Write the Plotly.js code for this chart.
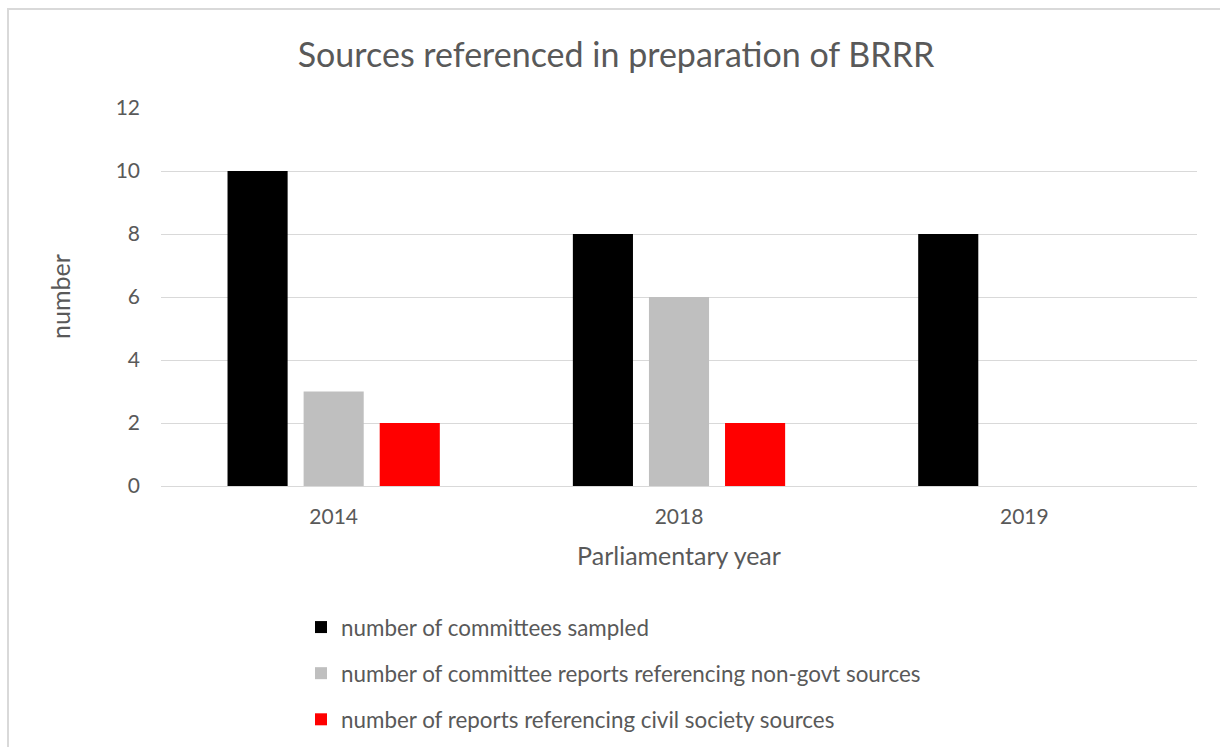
<!DOCTYPE html>
<html>
<head>
<meta charset="utf-8">
<script src="https://cdn.plot.ly/plotly-3.0.1.min.js"></script>
<style>
  html, body { margin: 0; padding: 0; background: #fff; }
  #wrap { position: relative; width: 1220px; height: 747px; overflow: hidden; }
  #chart { position: absolute; left: 0; top: 0; width: 1220px; height: 747px; }
  #frame { position: absolute; left: 7px; top: 8px; width: 1400px; height: 900px;
           border-top: 2px solid #d9d9d9; border-left: 2px solid #d9d9d9; pointer-events: none; }
</style>
</head>
<body>
<div id="wrap">
  <div id="chart"></div>
  <div id="frame"></div>
</div>
<script>
const years = ["2014", "2018", "2019"];
const committeesSampled = [10, 8, 8];
const reportsNonGovt = [3, 6, 0];
const reportsCivilSociety = [2, 2, 0];
const seriesNames = [
  "number of committees sampled",
  "number of committee reports referencing non-govt sources",
  "number of reports referencing civil society sources"
];
const seriesColors = ["#000000", "#bfbfbf", "#ff0000"];
const seriesValues = [committeesSampled, reportsNonGovt, reportsCivilSociety];
const yAxisTitle = "number";

const font = "Lato, 'Open Sans', sans-serif";
const textColor = "#595959";

const traces = seriesValues.map((vals, i) => ({
  type: "bar",
  x: years,
  y: vals,
  name: seriesNames[i],
  legendgroup: "g" + i,
  marker: { color: seriesColors[i] },
  hoverinfo: "x+y+name"
}));

const ml = 161, mr = 23, W = 1220;
const plotW = W - ml - mr;

const layout = {
  width: 1220,
  height: 747,
  margin: { l: ml, r: mr, t: 108, b: 261, autoexpand: false },
  paper_bgcolor: "#ffffff",
  plot_bgcolor: "#ffffff",
  font: { family: font, color: textColor, size: 21 },
  barmode: "group",
  bargap: 0.339,
  bargroupgap: 0.21,
  title: {
    text: "Sources referenced in preparation of BRRR",
    font: { family: font, size: 34, color: textColor },
    x: 616 / 1220, xanchor: "center",
    y: 1 - 55 / 747, yanchor: "middle"
  },
  xaxis: {
    type: "category",
    automargin: false,
    showgrid: false,
    showline: false,
    zeroline: false,
    ticks: "",
    ticklabelstandoff: 16,
    tickfont: { family: font, size: 21, color: textColor },
    title: { text: "Parliamentary year", font: { family: font, size: 25, color: textColor }, standoff: 20 }
  },
  yaxis: {
    automargin: false,
    range: [0, 12],
    dtick: 2,
    tick0: 0,
    showgrid: true,
    gridcolor: "#d9d9d9",
    gridwidth: 1,
    zeroline: true,
    zerolinecolor: "#d9d9d9",
    zerolinewidth: 1,
    showline: false,
    ticks: "",
    ticklabelstandoff: 20,
    tickfont: { family: font, size: 21, color: textColor }
  },
  annotations: [{
    text: yAxisTitle,
    xref: "paper", yref: "paper",
    x: (60 - ml) / plotW, y: 0.5,
    xanchor: "center", yanchor: "middle",
    textangle: -90,
    showarrow: false,
    font: { family: font, size: 25, color: textColor }
  }],
  showlegend: true,
  legend: {
    orientation: "v",
    xref: "container", yref: "container",
    x: 301 / 1220, xanchor: "left",
    y: 1 - 606 / 747, yanchor: "top",
    tracegroupgap: 14,
    font: { family: font, size: 22.4, color: textColor },
    bgcolor: "rgba(0,0,0,0)"
  }
};

Plotly.newPlot("chart", traces, layout, { displayModeBar: false, staticPlot: true });
</script>
</body>
</html>
